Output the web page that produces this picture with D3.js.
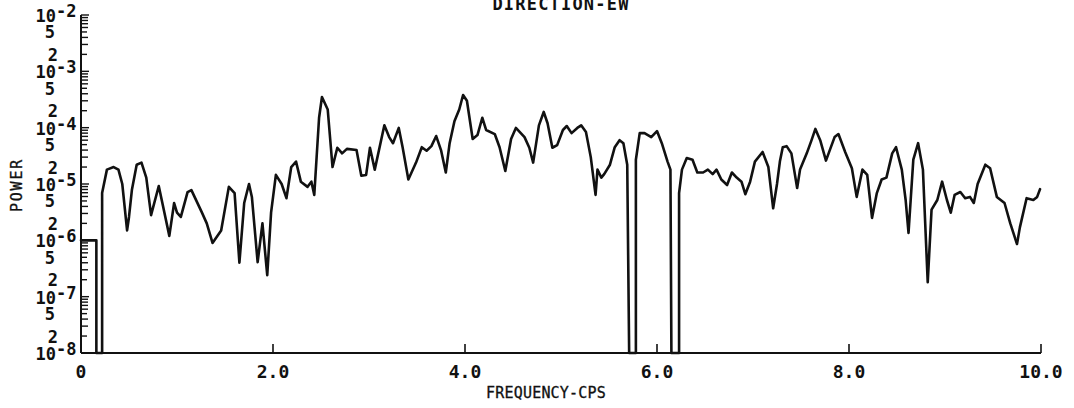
<!DOCTYPE html>
<html>
<head>
<meta charset="utf-8">
<script src="https://cdn.jsdelivr.net/npm/d3@7"></script>
<style>
  body { margin: 0; background: #fff; }
  svg { display: block; }
</style>
</head>
<body>
<svg id="chart" width="1074" height="408"></svg>
<script>
// Power spectrum, EW component (frequency in cps, power on a log scale)
const freq = [
  0.00,0.16,0.16,0.22,0.22,0.27,0.34,0.39,0.43,0.48,
  0.50,0.53,0.58,0.63,0.68,0.73,0.81,0.92,0.97,1.00,
  1.04,1.11,1.15,1.26,1.31,1.37,1.46,1.54,1.60,1.65,
  1.70,1.75,1.78,1.84,1.89,1.94,1.98,2.03,2.09,2.14,
  2.19,2.24,2.29,2.36,2.40,2.43,2.48,2.51,2.57,2.62,
  2.67,2.72,2.77,2.87,2.92,2.97,3.01,3.06,3.16,3.21,
  3.25,3.31,3.35,3.41,3.49,3.55,3.60,3.65,3.70,3.75,
  3.80,3.84,3.89,3.94,3.98,4.02,4.08,4.13,4.18,4.22,
  4.31,4.36,4.42,4.48,4.53,4.62,4.67,4.71,4.77,4.82,
  4.86,4.91,4.96,5.02,5.06,5.11,5.17,5.21,5.26,5.31,
  5.36,5.38,5.42,5.45,5.51,5.56,5.61,5.65,5.69,5.71,
  5.78,5.78,5.82,5.87,5.94,6.00,6.05,6.11,6.14,6.15,
  6.23,6.23,6.26,6.31,6.37,6.42,6.48,6.53,6.58,6.62,
  6.67,6.73,6.78,6.83,6.88,6.92,6.97,7.02,7.10,7.16,
  7.21,7.25,7.28,7.31,7.35,7.40,7.46,7.49,7.56,7.61,
  7.65,7.70,7.76,7.80,7.85,7.89,7.96,8.03,8.08,8.14,
  8.19,8.24,8.29,8.34,8.39,8.45,8.49,8.55,8.59,8.62,
  8.67,8.72,8.77,8.82,8.86,8.92,8.97,9.02,9.06,9.10,
  9.16,9.21,9.26,9.30,9.34,9.42,9.47,9.54,9.62,9.68,
  9.75,9.78,9.85,9.92,9.96,9.99
];
const power = [
  1.0e-6,1.0e-6,1e-8,1e-8,6.9e-6,1.8e-5,2.0e-5,1.8e-5,1.0e-5,1.5e-6,
  2.6e-6,7.8e-6,2.2e-5,2.4e-5,1.3e-5,2.8e-6,9.2e-6,1.2e-6,4.6e-6,3.1e-6,
  2.6e-6,7.2e-6,7.8e-6,3.1e-6,2.0e-6,9.0e-7,1.5e-6,8.9e-6,6.9e-6,4.0e-7,
  4.6e-6,1.0e-5,5.9e-6,4.1e-7,2.0e-6,2.4e-7,3.1e-6,1.45e-5,1.0e-5,5.6e-6,
  2.0e-5,2.5e-5,1.1e-5,8.9e-6,1.1e-5,6.4e-6,1.5e-4,3.5e-4,2.1e-4,2.0e-5,
  4.4e-5,3.5e-5,4.2e-5,4.0e-5,1.4e-5,1.45e-5,4.4e-5,1.8e-5,1.1e-4,6.8e-5,
  5.3e-5,9.9e-5,4.5e-5,1.2e-5,2.4e-5,4.5e-5,3.9e-5,4.7e-5,7.1e-5,4.0e-5,
  1.6e-5,5.3e-5,1.3e-4,2.1e-4,3.8e-4,3.0e-4,6.3e-5,7.4e-5,1.5e-4,9.1e-5,
  7.7e-5,4.5e-5,1.7e-5,6.3e-5,9.9e-5,6.8e-5,4.4e-5,2.4e-5,1.1e-4,1.9e-4,
  1.2e-4,4.4e-5,4.9e-5,9.1e-5,1.07e-4,8.0e-5,9.9e-5,1.1e-4,8.4e-5,3.0e-5,
  6.4e-6,1.8e-5,1.3e-5,1.5e-5,2.2e-5,4.5e-5,6.0e-5,5.3e-5,2.2e-5,1e-8,
  1e-8,2.7e-5,8.0e-5,8.0e-5,6.8e-5,8.7e-5,5.3e-5,2.5e-5,1.8e-5,1e-8,
  1e-8,6.9e-6,1.8e-5,2.9e-5,2.7e-5,1.6e-5,1.6e-5,1.8e-5,1.5e-5,1.8e-5,
  1.2e-5,9.6e-6,1.6e-5,1.3e-5,1.1e-5,6.6e-6,1.1e-5,2.5e-5,3.7e-5,2.0e-5,
  3.7e-6,1.0e-5,2.5e-5,4.5e-5,4.7e-5,3.5e-5,8.5e-6,1.8e-5,3.5e-5,6.0e-5,
  9.5e-5,6.0e-5,2.6e-5,4.0e-5,6.8e-5,7.7e-5,3.7e-5,1.9e-5,5.9e-6,1.8e-5,
  1.45e-5,2.5e-6,6.9e-6,1.2e-5,1.3e-5,3.5e-5,4.5e-5,1.8e-5,5.2e-6,1.35e-6,
  2.7e-5,5.3e-5,1.8e-5,1.8e-7,3.5e-6,5.2e-6,1.1e-5,5.2e-6,3.1e-6,6.4e-6,
  7.2e-6,5.6e-6,5.9e-6,4.6e-6,1.0e-5,2.2e-5,1.9e-5,5.9e-6,4.6e-6,2.0e-6,
  8.6e-7,1.7e-6,5.6e-6,5.2e-6,5.9e-6,8.1e-6
];

const xTicks = [0, 2, 4, 6, 8, 10];
const xTickLabels = ["0", "2.0", "4.0", "6.0", "8.0", "10.0"];
const yExponents = [-2, -3, -4, -5, -6, -7, -8];
const yMantissaLabels = ["5", "2"];

const titleText = "DIRECTION-EW";
const xTitle = "FREQUENCY-CPS";
const yTitle = "POWER";

const svg = d3.select("#chart");
const plotLeft = 81, plotRight = 1041, plotTop = 15, plotBottom = 353;

const x = d3.scaleLinear().domain([0, 10]).range([plotLeft, plotRight]);
const y = d3.scaleLog().domain([1e-8, 1e-2]).range([plotBottom, plotTop]).clamp(true);

const ink = "#111";
const monoFont = "'DejaVu Sans Mono', 'Liberation Mono', monospace";

// Axis frame: left and bottom lines
svg.append("line")
  .attr("x1", plotLeft).attr("x2", plotLeft).attr("y1", y(1e-2)).attr("y2", plotBottom)
  .attr("stroke", ink).attr("stroke-width", 2);
svg.append("line")
  .attr("x1", plotLeft).attr("x2", plotRight).attr("y1", plotBottom).attr("y2", plotBottom)
  .attr("stroke", ink).attr("stroke-width", 2);

// Log ruler ticks on the power axis (1..9 per decade), pointing inward
const minorVals = [];
yExponents.slice(1).forEach(e => {
  for (let k = 1; k <= 9; k++) minorVals.push({ v: k * Math.pow(10, e), k });
});
minorVals.push({ v: 1e-2, k: 1 });
svg.append("g").selectAll("line").data(minorVals).join("line")
  .attr("x1", plotLeft)
  .attr("x2", d => plotLeft + (d.k === 1 ? 8 : (d.k === 2 || d.k === 5 ? 6 : 7)))
  .attr("y1", d => y(d.v)).attr("y2", d => y(d.v))
  .attr("stroke", ink).attr("stroke-width", 1.4);

// Frequency ticks, pointing upward
svg.append("g").selectAll("line").data(xTicks.slice(1)).join("line")
  .attr("x1", d => x(d)).attr("x2", d => x(d))
  .attr("y1", plotBottom).attr("y2", plotBottom - 9)
  .attr("stroke", ink).attr("stroke-width", 1.6);

// Frequency tick labels
svg.append("g").selectAll("text").data(xTicks).join("text")
  .attr("x", d => x(d)).attr("y", 378)
  .attr("text-anchor", "middle")
  .attr("font-family", monoFont).attr("font-size", 18).attr("font-weight", "bold")
  .attr("fill", ink)
  .text((d, i) => xTickLabels[i]);

// Decade labels 10^-n
const decG = svg.append("g")
  .attr("font-family", monoFont).attr("font-size", 17).attr("font-weight", "bold").attr("fill", ink);
yExponents.forEach(e => {
  const yy = y(Math.pow(10, e));
  decG.append("text").attr("x", 56).attr("y", yy + 7).attr("text-anchor", "end").text("10");
  decG.append("text").attr("x", 56).attr("y", yy + 2).attr("text-anchor", "start").text("-" + (-e));
});
// Intermediate labels 5 and 2 in each decade below 10^-2
yExponents.slice(0, -1).forEach(e => {
  yMantissaLabels.forEach(m => {
    const v = (+m) * Math.pow(10, e - 1);
    decG.append("text").attr("x", m === "2" ? 58 : 55).attr("y", y(v) + 6.5)
      .attr("text-anchor", "end").text(m);
  });
});

// Spectrum curve
const pts = d3.zip(freq, power);
svg.append("path")
  .datum(pts)
  .attr("d", d3.line().x(d => x(d[0])).y(d => y(d[1])))
  .attr("fill", "none")
  .attr("stroke", ink)
  .attr("stroke-width", 2.6)
  .attr("stroke-linejoin", "round")
  .attr("stroke-linecap", "round");

// Titles
svg.append("text")
  .attr("x", 561).attr("y", 10)
  .attr("text-anchor", "middle")
  .attr("font-family", monoFont).attr("font-size", 17).attr("font-weight", "bold")
  .attr("letter-spacing", 1.2)
  .attr("fill", ink)
  .text(titleText);

svg.append("text")
  .attr("x", 546).attr("y", 398)
  .attr("text-anchor", "middle")
  .attr("font-family", monoFont).attr("font-size", 15)
  .attr("letter-spacing", 0.2)
  .attr("fill", ink).attr("stroke", ink).attr("stroke-width", 0.3)
  .text(xTitle);

svg.append("text")
  .attr("transform", "translate(22,185) rotate(-90)")
  .attr("text-anchor", "middle")
  .attr("font-family", monoFont).attr("font-size", 15)
  .attr("letter-spacing", 1.8)
  .attr("fill", ink).attr("stroke", ink).attr("stroke-width", 0.3)
  .text(yTitle);
</script>
</body>
</html>
